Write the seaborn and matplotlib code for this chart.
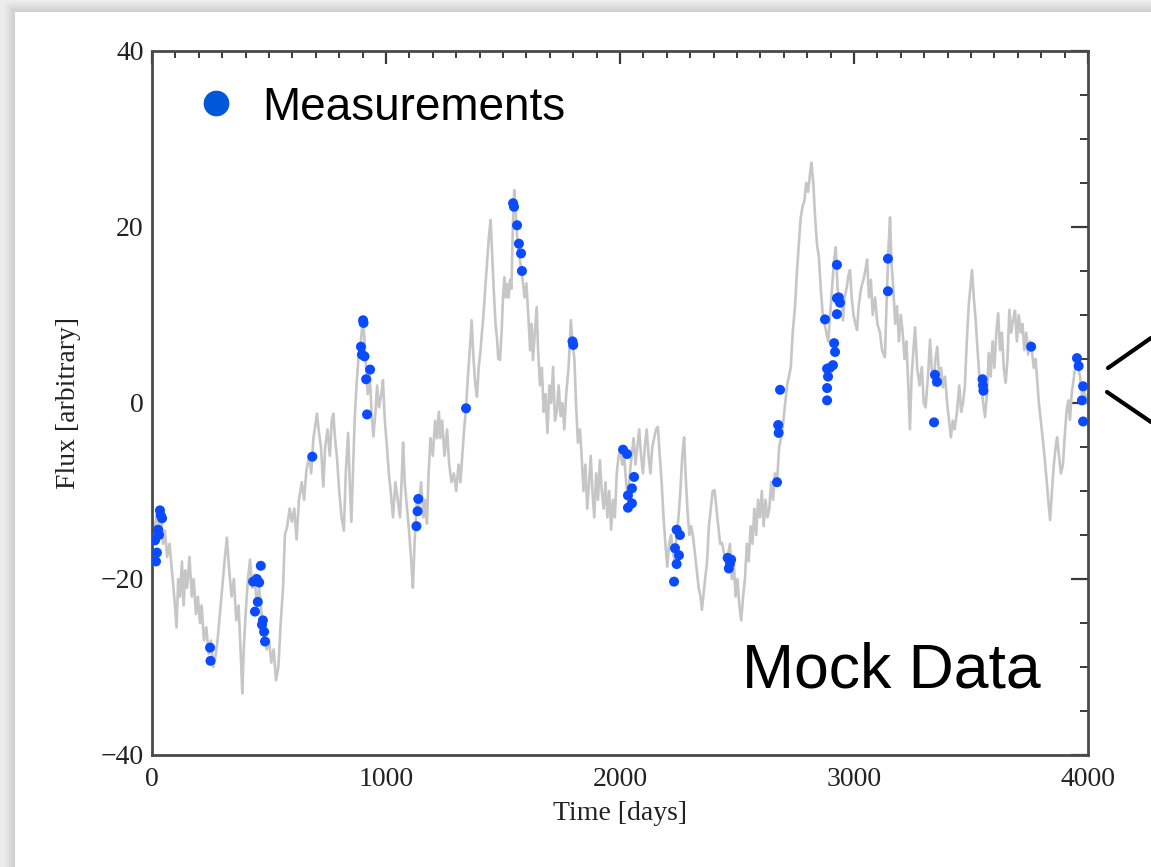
import matplotlib
matplotlib.use("Agg")
import matplotlib.pyplot as plt
from matplotlib.patches import Rectangle
from matplotlib.lines import Line2D
from matplotlib.ticker import MultipleLocator
import pandas as pd
import seaborn as sns

# Simulated light curve (day, flux)
light_curve = [
    (0, -13), (10, -15), (20, -12.5), (30, -14), (40, -13), (47, -16), (55, -14.5), (65, -17.5),
    (75, -16), (85, -19), (95, -22), (105, -25.5), (112, -20), (120, -22), (128, -18), (135, -23),
    (142, -19), (150, -21), (160, -17.5), (170, -22), (178, -20), (188, -24), (196, -22), (205, -25),
    (212, -23), (222, -27), (232, -25.5), (242, -28.5), (252, -27), (262, -30), (270, -29), (280, -27),
    (290, -24), (300, -21), (310, -18), (320, -15.3), (330, -19), (340, -22), (350, -20), (360, -24.7),
    (370, -23), (380, -29), (386, -33), (392, -28), (400, -24), (410, -20), (419, -17.8), (428, -21),
    (438, -19.5), (448, -23), (458, -21), (468, -24), (478, -26), (490, -28), (500, -27), (510, -29.5),
    (520, -28), (530, -31.5), (540, -30), (550, -25), (560, -21), (568, -15), (578, -14), (588, -12),
    (598, -13.5), (608, -12), (618, -15.5), (628, -11), (640, -9), (650, -11), (660, -7.6), (672, -6),
    (680, -8), (690, -4), (698, -2.5), (705, -1.2), (712, -3), (722, -5), (732, -9.5), (740, -5),
    (750, -3), (760, -6), (768, -2), (775, -1.2), (782, -4), (790, -6), (800, -10), (810, -13),
    (820, -14.5), (828, -8), (838, -3.4), (845, -9), (852, -13.5), (860, -7),
    (866, -2), (874, 2), (882, 5), (889, 6), (896, 8), (902, 9.8), (908, 7), (915, 4), (922, 1),
    (930, 3.8), (938, -1), (946, -3.8), (955, -1), (962, 2), (970, -0.5), (980, 1), (987, 2.6),
    (995, -2), (1005, -5.3), (1012, -8), (1020, -10), (1030, -13), (1040, -9), (1050, -11), (1060, -13),
    (1068, -8), (1073, -4.5), (1080, -9), (1090, -12), (1100, -15), (1108, -18), (1115, -21), (1122, -16),
    (1132, -11), (1140, -12), (1150, -9), (1160, -13), (1168, -11), (1175, -13.7), (1182, -8), (1190, -4),
    (1200, -6), (1210, -2), (1218, -4), (1226, -1), (1232, -4), (1240, -2), (1250, -6), (1261, -3),
    (1270, -7), (1280, -9), (1290, -8), (1300, -10), (1310, -7), (1318, -9), (1326, -6), (1334, -3),
    (1342, -0.6), (1350, 3), (1358, 6), (1366, 9.4), (1374, 5), (1382, 2), (1389, 0.7), (1396, 4),
    (1404, 6), (1410, 8), (1416, 9.8), (1424, 13), (1432, 16), (1440, 19), (1447, 20.8), (1455, 16),
    (1462, 12), (1468, 9), (1474, 7.5), (1480, 5), (1487, 4.9), (1494, 8), (1500, 12), (1506, 14.3),
    (1512, 12), (1518, 13.5), (1524, 12), (1530, 14), (1536, 13), (1542, 20), (1548, 24.2), (1554, 22),
    (1560, 19), (1568, 17), (1576, 15.5), (1584, 14), (1592, 12), (1600, 13.6),
    (1608, 10), (1616, 6), (1622, 9), (1628, 4.9), (1636, 8), (1644, 10.9), (1650, 6), (1658, 2),
    (1666, 4), (1674, -1), (1682, 1), (1690, -3.4), (1698, 2), (1706, 0), (1714, 4.1), (1722, -2),
    (1730, -1), (1738, 2), (1746, -1.5), (1754, 0), (1762, -3), (1770, 1), (1780, 4), (1790, 9.4),
    (1797, 7), (1805, 5), (1812, 0), (1820, -4.5), (1829, -3), (1836, -6), (1844, -10), (1852, -7),
    (1860, -12), (1868, -9), (1875, -6), (1882, -10), (1890, -13), (1898, -8), (1906, -11), (1914, -6.5),
    (1922, -10), (1930, -12), (1938, -9), (1946, -13), (1954, -10), (1962, -14.4), (1970, -11), (1978, -13),
    (1986, -8), (1994, -6), (2002, -5.5), (2010, -7), (2018, -6), (2026, -9), (2034, -11), (2042, -8),
    (2050, -6), (2058, -4), (2066, -7), (2074, -5), (2082, -3), (2090, -6), (2098, -8), (2106, -5),
    (2114, -3), (2122, -6), (2130, -8), (2138, -5), (2146, -4), (2154, -3), (2162, -2.7), (2170, -6),
    (2178, -9), (2186, -13), (2194, -16), (2202, -18.6), (2210, -16), (2218, -15), (2226, -17), (2234, -18),
    (2242, -15), (2250, -13), (2258, -10), (2266, -6), (2274, -3.9), (2280, -8), (2288, -12), (2296, -15),
    (2304, -14), (2312, -15.2), (2320, -17), (2328, -19), (2336, -21), (2344, -22), (2350, -23.5), (2356, -22),
    (2364, -20), (2372, -18), (2380, -14), (2388, -12), (2396, -10), (2404, -9.9), (2412, -12), (2420, -14),
    (2428, -16), (2436, -15.9), (2444, -17), (2452, -18), (2460, -17.5), (2470, -16), (2478, -20), (2486, -18),
    (2494, -22), (2502, -20), (2510, -23), (2518, -24.7), (2526, -22), (2534, -20),
    (2542, -16), (2550, -18), (2558, -14), (2566, -16), (2574, -12), (2582, -15), (2590, -11), (2598, -13),
    (2606, -10), (2614, -14), (2622, -11), (2630, -13), (2638, -12), (2646, -9), (2654, -11), (2662, -8),
    (2671, -9.1), (2680, -5), (2688, -4), (2697, -2.3), (2706, 0), (2714, 2), (2722, 3), (2730, 4.1),
    (2738, 8), (2748, 11), (2756, 14.8), (2764, 18), (2772, 21), (2780, 22.3), (2788, 23), (2796, 25),
    (2804, 24), (2812, 26), (2818, 27.3), (2826, 25), (2834, 21), (2842, 18), (2850, 16.6), (2858, 13),
    (2866, 10.2), (2874, 9), (2882, 8), (2890, 7), (2898, 10), (2906, 13), (2914, 16), (2922, 17.7),
    (2930, 13), (2938, 11), (2946, 12), (2953, 9.4), (2960, 12), (2968, 13), (2976, 14.5), (2983, 15.1),
    (2990, 12), (2998, 10), (3006, 9), (3013, 8.3), (3020, 11), (3030, 13), (3040, 14), (3048, 15),
    (3056, 16.3), (3064, 12), (3072, 14), (3080, 10), (3090, 12), (3100, 9), (3111, 8), (3120, 6),
    (3132, 5.2), (3140, 12), (3148, 18), (3154, 21.1), (3160, 16), (3168, 13), (3176, 9), (3184, 11),
    (3192, 7), (3200, 10), (3208, 8), (3216, 5), (3224, 7), (3232, 2), (3239, -3),
    (3246, 3), (3254, 6), (3261, 8.6), (3270, 4), (3280, 2), (3290, 4.1), (3298, 0), (3306, -0.5),
    (3316, 3), (3325, 7.2), (3332, 4), (3340, 2), (3348, 5), (3356, 6.4), (3364, 3), (3372, 4),
    (3380, 1.8), (3389, 3), (3398, 0), (3406, -1.9), (3414, -3.9), (3422, -2), (3430, -3), (3440, -1),
    (3450, 2), (3458, -1), (3466, 0), (3474, 2), (3482, 7), (3490, 11), (3497, 13), (3504, 15.1),
    (3512, 12), (3520, 9.4), (3528, 6), (3536, 3), (3544, 2), (3552, 0), (3560, -1.6), (3568, 1),
    (3576, 5.7), (3584, 3), (3592, 7), (3600, 4), (3608, 8), (3616, 10.2), (3624, 6), (3632, 8),
    (3640, 4), (3648, 2.3), (3656, 5), (3664, 10.6), (3672, 8), (3680, 9.4), (3688, 10.5), (3696, 7),
    (3704, 10), (3712, 8), (3720, 9), (3728, 6), (3736, 8), (3744, 5.5), (3752, 7), (3760, 6),
    (3768, 4), (3776, 5), (3782, 3), (3790, 0), (3798, -1.9), (3806, -4), (3814, -6), (3822, -8.4),
    (3830, -11), (3838, -13.3), (3846, -10), (3854, -7), (3862, -5), (3868, -3.9), (3876, -6), (3884, -8),
    (3893, -7), (3900, -4), (3908, -1), (3916, 0.3), (3923, -1.9), (3930, 1), (3940, 3), (3950, 5),
    (3958, 4), (3966, 3), (3974, 1), (3982, 2), (3990, 0), (4000, 1),
]

# Sampled measurements (day, flux)
measurements = [
    (13, -15.6), (17, -18.0), (21, -17.0), (26, -14.4), (30, -15.0), (34, -12.2), (38, -12.8), (43, -13.1),
    (248, -27.8), (250, -29.3),
    (432, -20.3), (440, -23.7), (448, -20.0), (452, -22.6), (458, -20.4), (465, -18.5), (470, -25.2),
    (474, -24.7), (479, -26.0), (483, -27.1),
    (685, -6.1),
    (893, 6.4), (897, 5.5), (902, 9.4), (904, 9.1), (908, 5.3), (915, 2.7), (919, -1.3), (932, 3.8),
    (1130, -14.0), (1135, -12.3), (1138, -10.9),
    (1342, -0.6),
    (1543, 22.7), (1547, 22.3), (1560, 20.2), (1568, 18.1), (1577, 17.0), (1581, 15.0),
    (1797, 7.0), (1800, 6.6),
    (2013, -5.3), (2030, -5.8), (2034, -10.5), (2034, -11.9), (2051, -9.7), (2051, -11.4), (2060, -8.4),
    (2231, -20.3), (2235, -16.5), (2242, -14.4), (2242, -18.3), (2252, -17.3), (2256, -15.0),
    (2460, -17.6), (2465, -18.8), (2470, -18.2), (2475, -17.8),
    (2671, -9.0), (2676, -2.5), (2678, -3.4), (2684, 1.5),
    (2876, 9.5), (2885, 3.9), (2885, 1.7), (2885, 0.3), (2889, 3.0), (2897, 4.0), (2910, 4.3),
    (2915, 6.8), (2919, 5.8), (2927, 15.7), (2927, 11.9), (2927, 10.1), (2935, 12.0), (2940, 11.4),
    (3145, 16.4), (3145, 12.7),
    (3342, -2.2), (3346, 3.2), (3355, 2.4),
    (3549, 2.7), (3551, 2.0), (3553, 1.4),
    (3757, 6.4),
    (3953, 5.1), (3960, 4.2), (3974, 0.3), (3979, 1.9), (3979, -2.1),
]

x_ticks = [0, 1000, 2000, 3000, 4000]
y_ticks = [-40, -20, 0, 20, 40]
x_label = "Time [days]"
y_label = "Flux [arbitrary]"
legend_label = "Measurements"
title_note = "Mock Data"

curve_df = pd.DataFrame(light_curve, columns=["day", "flux"])
obs_df = pd.DataFrame(measurements, columns=["day", "flux"])

sns.set_theme(style="white")
plt.rcParams["font.family"] = ["Liberation Serif", "DejaVu Serif"]

W, H = 1151, 867
fig = plt.figure(figsize=(W / 100, H / 100), dpi=100, facecolor="#ececec")

# Slide card with a soft drop shadow
card_x0, card_y0 = 15 / W, 0.0
card_top = 1 - 12 / H
for i in range(10, 0, -1):
    dx, dy = i / W, i / H
    fig.add_artist(Rectangle((card_x0 - dx, card_y0 - dy), 1.2, card_top - card_y0 + 2 * dy,
                             transform=fig.transFigure, facecolor="black", alpha=0.012,
                             edgecolor="none", zorder=0))
fig.add_artist(Rectangle((card_x0, card_y0), 1.2, card_top - card_y0, transform=fig.transFigure,
                         facecolor="white", edgecolor="none", zorder=0))

left, right, top, bottom = 152, 1088, 51, 755
ax = fig.add_axes([left / W, 1 - bottom / H, (right - left) / W, (bottom - top) / H])
ax.set_facecolor("white")

sns.lineplot(data=curve_df, x="day", y="flux", sort=False, estimator=None,
             color="#c6c6c6", linewidth=1.9, ax=ax, zorder=2)
sns.scatterplot(data=obs_df, x="day", y="flux", color="#0a4bff", s=52,
                edgecolor="none", linewidth=0, ax=ax, zorder=3)

ax.set_xlim(0, 4000)
ax.set_ylim(-40, 40)
ax.set_xticks(x_ticks)
ax.set_yticks(y_ticks)
ax.xaxis.set_minor_locator(MultipleLocator(100))
ax.yaxis.set_minor_locator(MultipleLocator(5))

for s in ax.spines.values():
    s.set_visible(True)
    s.set_color("#4a4a4a")
    s.set_linewidth(2.0)

ax.tick_params(which="both", direction="in", top=True, right=True, colors="#3a3a3a",
               labelcolor="#222222", labelsize=20)
ax.tick_params(axis="y", which="major", length=12, width=1.6, pad=6)
ax.tick_params(axis="y", which="minor", length=6, width=1.4)
ax.tick_params(axis="x", which="major", length=9.5, width=1.6, pad=9)
ax.tick_params(axis="x", which="minor", length=5, width=1.4)

ax.set_xlabel(x_label, fontsize=20, color="#222222", labelpad=6)
ax.set_ylabel(y_label, fontsize=20, color="#222222", labelpad=14)

# Legend entry
ax.plot([(216 - left) / (right - left)], [(bottom - 103) / (bottom - top)], marker="o",
        markersize=17.5, color="#0057d9", linestyle="none", transform=ax.transAxes, clip_on=False)
fig.text(262 / W, 1 - 120 / H, legend_label, fontsize=33, family=["Liberation Sans", "DejaVu Sans"],
         color="black", va="baseline", ha="left")

fig.text(742 / W, 1 - 687 / H, title_note, fontsize=45, family=["Liberation Sans", "DejaVu Sans"],
         color="black", va="baseline", ha="left")

# Callout bracket at the right edge
fig.add_artist(Line2D([1108 / W, 1.0], [1 - 368 / H, 1 - 338 / H], color="black", lw=3,
                      transform=fig.transFigure))
fig.add_artist(Line2D([1107 / W, 1.0], [1 - 392 / H, 1 - 422 / H], color="black", lw=3,
                      transform=fig.transFigure))

fig.savefig("out.png", dpi=100, facecolor=fig.get_facecolor())
